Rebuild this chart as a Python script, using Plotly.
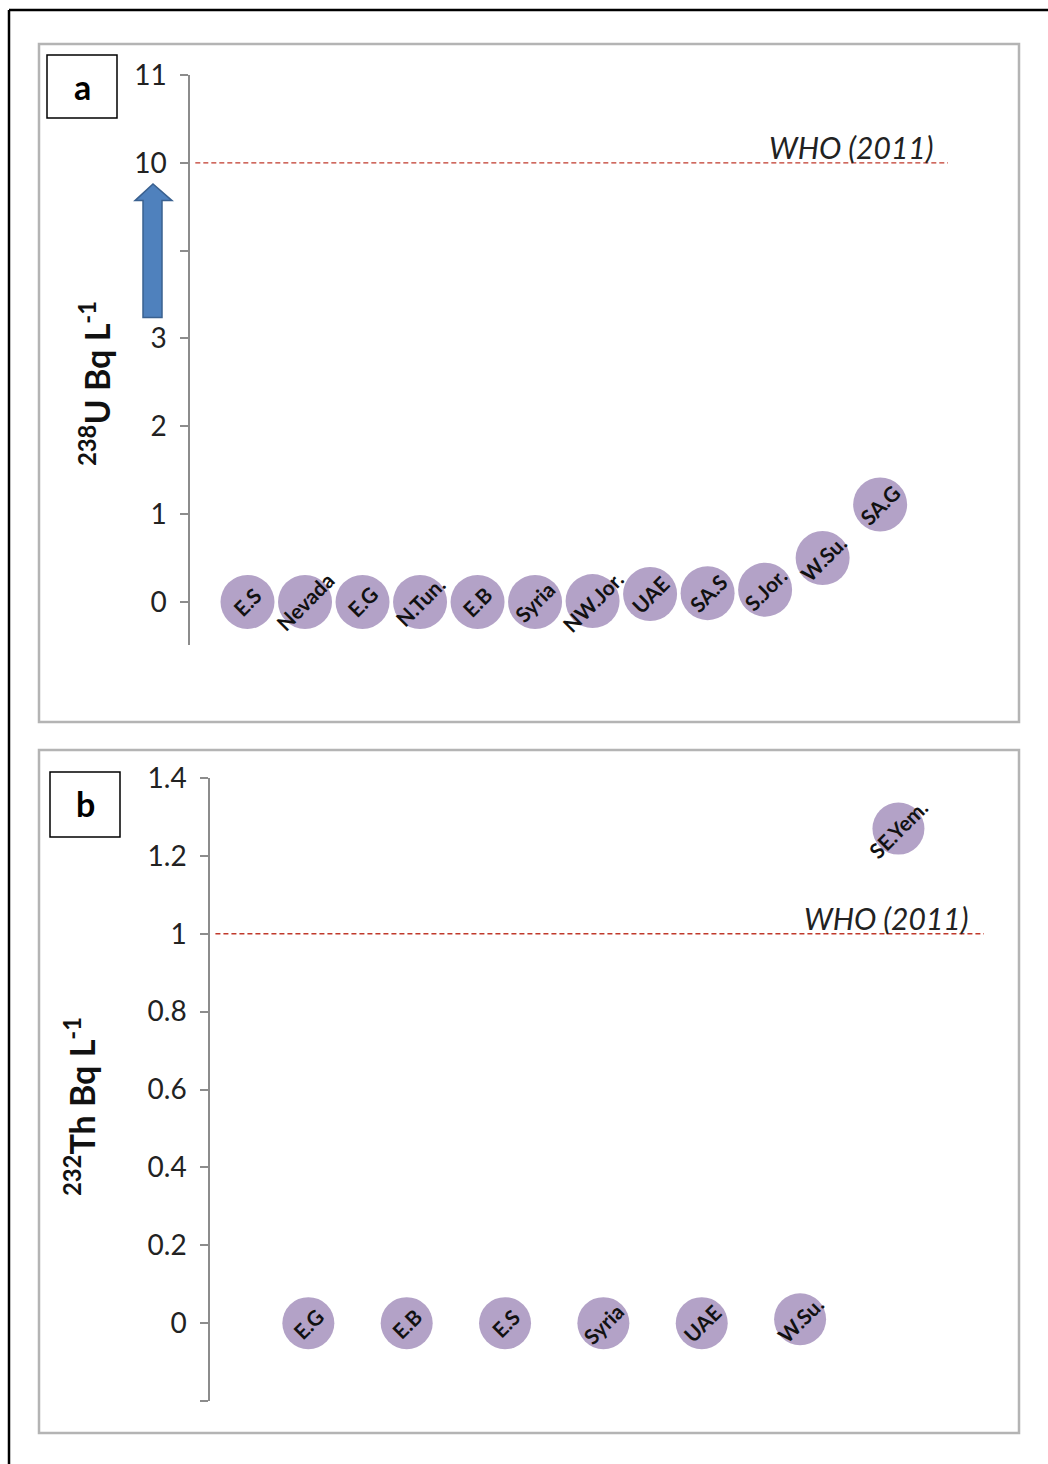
import plotly.graph_objects as go

# ---------------- data ----------------
u_sites = ["E.S", "Nevada", "E.G", "N.Tun.", "E.B", "Syria", "NW.Jor.", "UAE", "SA.S", "S.Jor.", "W.Su.", "SA.G"]
u_vals = [0, 0, 0, 0, 0, 0, 0.01, 0.09, 0.10, 0.14, 0.50, 1.11]
u_tickvals = [0, 1, 2, 3, 4, 5, 6]
u_ticktext = ["0", "1", "2", "3", "", "10", "11"]
u_who = 10

th_sites = ["E.G", "E.B", "E.S", "Syria", "UAE", "W.Su.", "SE.Yem."]
th_vals = [0, 0, 0, 0, 0, 0.01, 1.27]
th_tickvals = [-0.2, 0, 0.2, 0.4, 0.6, 0.8, 1.0, 1.2, 1.4]
th_ticktext = ["", "0", "0.2", "0.4", "0.6", "0.8", "1", "1.2", "1.4"]
th_who = 1.0

W, H = 1048, 1464


def px(x):
    return x / W


def py(y):
    return 1 - y / H


def u_pos(v):
    # broken axis: 0..3 linear, then 10 -> 5, 11 -> 6
    return v if v <= 3 else v - 5


MARKER = "#b3a2c7"
AXIS = "#8c8c8c"
FONT = "Lato"

fig = go.Figure()

u_x = list(range(1, len(u_sites) + 1))
u_y = [u_pos(v) for v in u_vals]
fig.add_trace(go.Scatter(x=u_x, y=u_y, mode="markers", xaxis="x", yaxis="y",
                         marker=dict(size=54, color=MARKER, line=dict(width=0)),
                         hoverinfo="skip"))

th_x = list(range(1, len(th_sites) + 1))
fig.add_trace(go.Scatter(x=th_x, y=th_vals, mode="markers", xaxis="x2", yaxis="y2",
                         marker=dict(size=52, color=MARKER, line=dict(width=0)),
                         hoverinfo="skip"))

annotations = []
lbl_font = dict(family=FONT, size=21, color="#111", weight=700)
for xi, yi, t in zip(u_x, u_y, u_sites):
    annotations.append(dict(x=xi, y=yi, xref="x", yref="y", text=t, showarrow=False,
                            xanchor="center", yanchor="middle", textangle=-45, font=lbl_font))
for xi, yi, t in zip(th_x, th_vals, th_sites):
    annotations.append(dict(x=xi, y=yi, xref="x2", yref="y2", text=t, showarrow=False,
                            xanchor="center", yanchor="middle", textangle=-45, font=lbl_font))

# WHO labels
who_font = dict(family=FONT, size=30, color="#222")
annotations.append(dict(x=12.96, y=u_pos(u_who), xref="x", yref="y", text="<i>WHO (2011)</i>",
                        showarrow=False, xanchor="right", yanchor="bottom", yshift=-4, font=who_font))
annotations.append(dict(x=7.73, y=th_who, xref="x2", yref="y2", text="<i>WHO (2011)</i>",
                        showarrow=False, xanchor="right", yanchor="bottom", yshift=-4, font=who_font))

# axis titles
title_font = dict(family=FONT, size=34, color="#111")
annotations.append(dict(x=px(95), y=py(384), xref="paper", yref="paper",
                        xanchor="center", yanchor="middle",
                        text="<b><sup>238</sup>U Bq L<sup>-1</sup></b>", showarrow=False,
                        textangle=-90, font=title_font))
annotations.append(dict(x=px(80), y=py(1107), xref="paper", yref="paper",
                        xanchor="center", yanchor="middle",
                        text="<b><sup>232</sup>Th Bq L<sup>-1</sup></b>", showarrow=False,
                        textangle=-90, font=title_font))

# panel letters
annotations.append(dict(x=px(82), y=py(86), xref="paper", yref="paper", text="<b>a</b>",
                        xanchor="center", yanchor="middle",
                        showarrow=False, font=dict(family=FONT, size=34, color="#000")))
annotations.append(dict(x=px(85), y=py(803), xref="paper", yref="paper", text="<b>b</b>",
                        xanchor="center", yanchor="middle",
                        showarrow=False, font=dict(family=FONT, size=34, color="#000")))

shapes = []
# outer frame
shapes.append(dict(type="line", xref="paper", yref="paper", x0=px(9), x1=1.0, y0=py(10), y1=py(10),
                   line=dict(color="#000", width=2.5)))
shapes.append(dict(type="line", xref="paper", yref="paper", x0=px(9), x1=px(9), y0=py(10), y1=0,
                   line=dict(color="#000", width=2.5)))
# panel borders
shapes.append(dict(type="rect", xref="paper", yref="paper", x0=px(39), x1=px(1019), y0=py(44), y1=py(722),
                   line=dict(color="#b4b4b4", width=2.5)))
shapes.append(dict(type="rect", xref="paper", yref="paper", x0=px(39), x1=px(1019), y0=py(750), y1=py(1433),
                   line=dict(color="#b4b4b4", width=2.5)))
# letter boxes
shapes.append(dict(type="rect", xref="paper", yref="paper", x0=px(47), x1=px(117), y0=py(55), y1=py(118),
                   line=dict(color="#000", width=1.5)))
shapes.append(dict(type="rect", xref="paper", yref="paper", x0=px(50), x1=px(120), y0=py(772), y1=py(837),
                   line=dict(color="#000", width=1.5)))
# WHO lines
shapes.append(dict(type="line", xref="x domain", yref="y", x0=0.007, x1=1, y0=u_pos(u_who), y1=u_pos(u_who),
                   line=dict(color="#c0392b", width=1.4, dash="5px,3px")))
shapes.append(dict(type="line", xref="x2 domain", yref="y2", x0=0.007, x1=1, y0=th_who, y1=th_who,
                   line=dict(color="#c0392b", width=1.4, dash="5px,3px")))
# axis-break arrow
ax0, ax1, hx0, hx1, cx = px(143), px(162), px(135), px(172), px(153)
yb, yh, yt = 3.24, 4.57, 4.76
path = (f"M {ax0},{yb} L {ax1},{yb} L {ax1},{yh} L {hx1},{yh} L {cx},{yt} "
        f"L {hx0},{yh} L {ax0},{yh} Z")
shapes.append(dict(type="path", xref="paper", yref="y", path=path,
                   fillcolor="#4f81bd", line=dict(color="#3a6190", width=1.5)))

yaxis_common = dict(showline=True, linecolor=AXIS, linewidth=1.5, ticks="outside", ticklen=8,
                    tickcolor=AXIS, tickwidth=1.5, showgrid=False, zeroline=False,
                    tickfont=dict(family=FONT, size=28, color="#222"), tickmode="array",
                    ticklabelstandoff=8, automargin=False)
xaxis_common = dict(showline=False, showticklabels=False, showgrid=False, zeroline=False, ticks="",
                    automargin=False)

fig.update_layout(
    width=W, height=H, margin=dict(l=0, r=0, t=0, b=0, pad=0, autoexpand=False),
    paper_bgcolor="white", plot_bgcolor="rgba(0,0,0,0)", showlegend=False,
    xaxis=dict(domain=[px(190), px(948)], range=[0, 13.18], anchor="y", **xaxis_common),
    yaxis=dict(domain=[py(645), py(75)], range=[-0.49, 6], anchor="x",
               tickvals=u_tickvals, ticktext=u_ticktext, **yaxis_common),
    xaxis2=dict(domain=[px(210), px(984)], range=[0, 7.87], anchor="y2", **xaxis_common),
    yaxis2=dict(domain=[py(1401), py(778)], range=[-0.2, 1.4], anchor="x2",
                tickvals=th_tickvals, ticktext=th_ticktext, **yaxis_common),
    annotations=annotations, shapes=shapes,
)

post_js = (
    "document.body.style.margin='0';"
    "document.body.style.overflow='hidden';"
)
fig.write_html("out.html", config={"displayModeBar": False}, post_script=post_js)
